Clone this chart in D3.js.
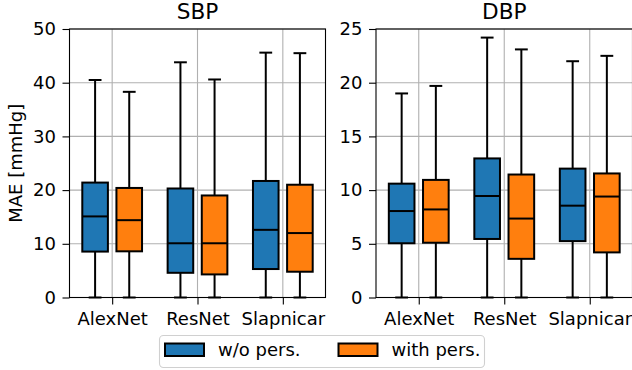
<!DOCTYPE html>
<html>
<head>
<meta charset="utf-8">
<script src="https://cdn.jsdelivr.net/npm/d3@7"></script>
<style>
  body { margin: 0; background: #fff; }
  text { font-family: "DejaVu Sans", sans-serif; fill: #000; }
</style>
</head>
<body>
<div id="chart"></div>
<script>
// categories + box stats [low whisker, q1, median, q3, high whisker]
var categories = ["AlexNet", "ResNet", "Slapnicar"];
var seriesNames = ["w/o pers.", "with pers."];
var seriesColors = ["#1f77b4", "#ff7f0e"];

var sbpNoPers = [[0, 8.55, 15.1, 21.4, 40.5], [0, 4.6, 10.1, 20.3, 43.8], [0, 5.3, 12.6, 21.7, 45.6]];
var sbpPers   = [[0, 8.6, 14.4, 20.4, 38.3], [0, 4.3, 10.1, 19.0, 40.6], [0, 4.8, 12.0, 21.0, 45.5]];
var dbpNoPers = [[0, 5.05, 8.05, 10.6, 19.0], [0, 5.45, 9.45, 12.95, 24.2], [0, 5.25, 8.55, 12.0, 22.0]];
var dbpPers   = [[0, 5.1, 8.2, 10.95, 19.7], [0, 3.6, 7.35, 11.45, 23.1], [0, 4.2, 9.4, 11.55, 22.5]];

var sbpTicks = [0, 10, 20, 30, 40, 50];
var dbpTicks = [0, 5, 10, 15, 20, 25];

var width = 632, height = 370;
var plotTop = 29, plotBottom = 297.5;
var boxW = 0.3, offset = 0.2;

var svg = d3.select("#chart").append("svg")
    .attr("width", width)
    .attr("height", height);

function panel(title, left, right, yMax, ticks, groups) {
  var x = d3.scaleLinear().domain([0.5, 3.5]).range([left, right]);
  var y = d3.scaleLinear().domain([0, yMax]).range([plotBottom, plotTop]);
  var g = svg.append("g");

  // grid
  g.selectAll("line.hgrid").data(ticks).enter().append("line")
      .attr("x1", left).attr("x2", right)
      .attr("y1", function(d) { return y(d); })
      .attr("y2", function(d) { return y(d); })
      .style("stroke", "#b0b0b0").style("stroke-width", 1.1);
  g.selectAll("line.vgrid").data([1, 2, 3]).enter().append("line")
      .attr("x1", function(d) { return x(d); })
      .attr("x2", function(d) { return x(d); })
      .attr("y1", plotTop).attr("y2", plotBottom)
      .style("stroke", "#b0b0b0").style("stroke-width", 1.1);

  // boxes
  groups.forEach(function(stats, si) {
    var dx = si === 0 ? -offset : offset;
    var bg = g.append("g");
    stats.forEach(function(s, ci) {
      var cx = x(ci + 1 + dx);
      var half = (x(boxW) - x(0)) / 2;
      var cap = half / 2;
      // whiskers
      bg.append("line").attr("x1", cx).attr("x2", cx)
          .attr("y1", y(s[0])).attr("y2", y(s[1]))
          .style("stroke", "#000").style("stroke-width", 2);
      bg.append("line").attr("x1", cx).attr("x2", cx)
          .attr("y1", y(s[3])).attr("y2", y(s[4]))
          .style("stroke", "#000").style("stroke-width", 2);
      [s[0], s[4]].forEach(function(v) {
        bg.append("line").attr("x1", cx - cap).attr("x2", cx + cap)
            .attr("y1", y(v)).attr("y2", y(v))
            .style("stroke", "#000").style("stroke-width", 2);
      });
      bg.append("rect")
          .attr("x", cx - half).attr("width", 2 * half)
          .attr("y", y(s[3])).attr("height", y(s[1]) - y(s[3]))
          .style("fill", seriesColors[si])
          .style("stroke", "#000").style("stroke-width", 2);
      bg.append("line").attr("x1", cx - half).attr("x2", cx + half)
          .attr("y1", y(s[2])).attr("y2", y(s[2]))
          .style("stroke", "#000").style("stroke-width", 2);
    });
  });

  // axes
  var ya = g.append("g").attr("transform", "translate(" + left + ",0)")
      .call(d3.axisLeft(y).tickValues(ticks).tickSize(7).tickPadding(6.5).tickSizeOuter(0));
  var xa = g.append("g").attr("transform", "translate(0," + plotBottom + ")")
      .call(d3.axisBottom(x).tickValues([1, 2, 3]).tickSize(7).tickPadding(7.5)
        .tickSizeOuter(0).tickFormat(function(d) { return categories[d - 1]; }));
  [ya, xa].forEach(function(a) {
    a.select(".domain").remove();
    a.selectAll("line").style("stroke", "#000").style("stroke-width", 1.1);
    a.selectAll("text").style("font-size", "18px").style("font-family", "DejaVu Sans");
  });

  g.append("rect")
      .attr("x", left).attr("y", plotTop)
      .attr("width", right - left).attr("height", plotBottom - plotTop)
      .style("fill", "none").style("stroke", "#000").style("stroke-width", 1.1);

  g.append("text")
      .attr("x", (left + right) / 2).attr("y", 18.5)
      .attr("text-anchor", "middle")
      .style("font-size", "21.6px")
      .text(title);
}

panel("SBP", 69.5, 325.5, 50, sbpTicks, [sbpNoPers, sbpPers]);
panel("DBP", 376, 632.5, 25, dbpTicks, [dbpNoPers, dbpPers]);

// y label
svg.append("text")
    .attr("transform", "translate(21.5," + ((plotTop + plotBottom) / 2) + ") rotate(-90)")
    .attr("text-anchor", "middle")
    .style("font-size", "18px")
    .text("MAE [mmHg]");

// legend
var leg = svg.append("g");
leg.append("rect")
    .attr("x", 159.5).attr("y", 335.5).attr("width", 325).attr("height", 32)
    .attr("rx", 4).attr("ry", 4)
    .style("fill", "#fff").style("fill-opacity", 0.8)
    .style("stroke", "#d0d0d0").style("stroke-width", 1.1);
var legX = [165, 338.5];
seriesNames.forEach(function(name, i) {
  leg.append("rect")
      .attr("x", legX[i]).attr("y", 343.5).attr("width", 39).attr("height", 12.5)
      .style("fill", seriesColors[i]).style("stroke", "#000").style("stroke-width", 2);
  leg.append("text")
      .attr("x", legX[i] + 53).attr("y", 356)
      .style("font-size", "18px")
      .text(name);
});
</script>
</body>
</html>
